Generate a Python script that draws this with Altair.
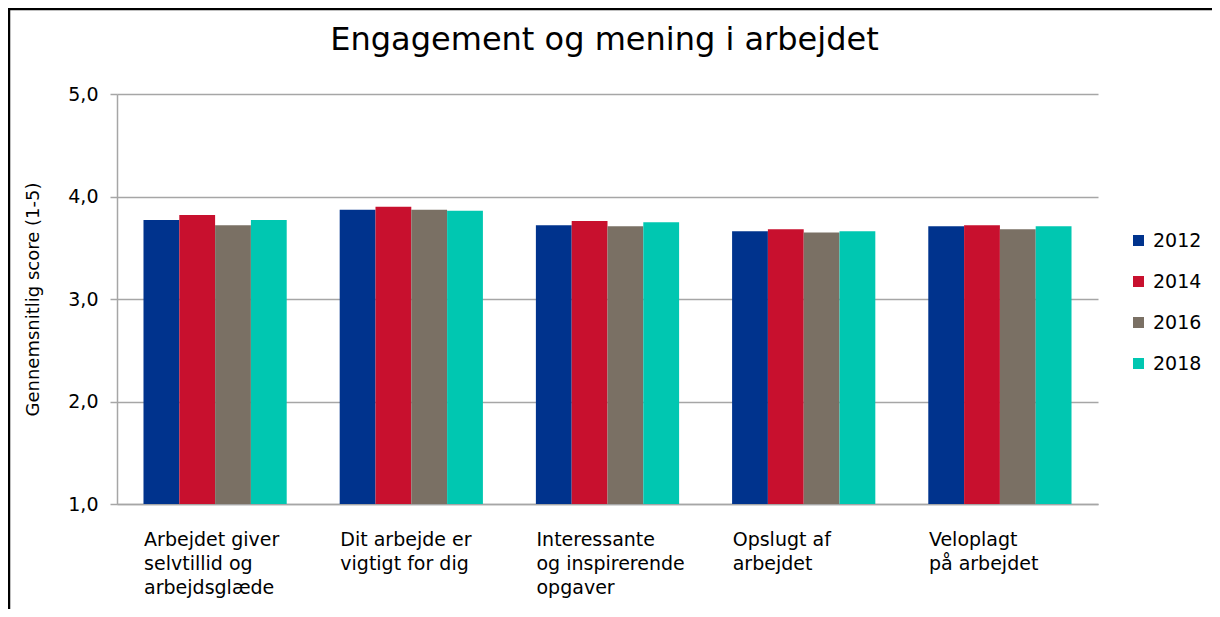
import altair as alt
import pandas as pd

categories = [
    "Arbejdet giver\nselvtillid og\narbejdsglæde",
    "Dit arbejde er\nvigtigt for dig",
    "Interessante\nog inspirerende\nopgaver",
    "Opslugt af\narbejdet",
    "Veloplagt\npå arbejdet",
]
years = ["2012", "2014", "2016", "2018"]
v2012 = [3.77, 3.87, 3.72, 3.66, 3.71]
v2014 = [3.82, 3.90, 3.76, 3.68, 3.72]
v2016 = [3.72, 3.87, 3.71, 3.65, 3.68]
v2018 = [3.77, 3.86, 3.75, 3.66, 3.71]
colors = ["#00338D", "#C8102E", "#7A7064", "#00C7B1"]
y_ticks = [1, 2, 3, 4, 5]
title_text = "Engagement og mening i arbejdet"

rows = []
for yr, vals in zip(years, [v2012, v2014, v2016, v2018]):
    for c, v in zip(categories, vals):
        rows.append({"kategori": c, "år": yr, "score": v})
df = pd.DataFrame(rows)

FONT = "DejaVu Sans"
W, H = 981, 410
PAD = {"left": 109, "top": 86, "right": 114, "bottom": 105}

bars = alt.Chart(df).mark_bar().encode(
    x=alt.X(
        "kategori:N",
        sort=categories,
        title=None,
        scale=alt.Scale(paddingInner=0.27, paddingOuter=0.135),
        axis=alt.Axis(
            labelExpr="split(datum.label, '\\n')",
            labelAngle=0,
            labelAlign="left",
            labelBaseline="top",
            labelOffset=-71,
            labelPadding=26,
            labelFontSize=19,
            labelLineHeight=24,
            labelFont=FONT,
            labelColor="#000000",
            ticks=False,
            domainColor="#A6A6A6",
            domainWidth=1.5,
            grid=False,
        ),
    ),
    xOffset=alt.XOffset("år:N", sort=years),
    y=alt.Y(
        "score:Q",
        scale=alt.Scale(domain=[1, 5], nice=False, zero=False),
        title="Gennemsnitlig score (1-5)",
        axis=alt.Axis(
            values=y_ticks,
            labelExpr="replace(format(datum.value, '.1f'), '.', ',')",
            labelFontSize=19,
            labelFont=FONT,
            labelColor="#000000",
            labelPadding=12,
            tickSize=7,
            tickColor="#A6A6A6",
            tickWidth=1.5,
            domainColor="#A6A6A6",
            domainWidth=1.5,
            gridColor="#A6A6A6",
            gridWidth=1.5,
            titleFont=FONT,
            titleFontSize=18,
            titleFontWeight="normal",
            titleColor="#000000",
            titlePadding=25,
        ),
    ),
    y2=alt.datum(1),
    color=alt.Color(
        "år:N",
        sort=years,
        scale=alt.Scale(domain=years, range=colors),
        legend=alt.Legend(
            title=None,
            orient="none",
            legendX=1012,
            legendY=137,
            symbolType="square",
            symbolSize=121,
            symbolStrokeWidth=0,
            labelFontSize=19,
            labelFont=FONT,
            labelColor="#000000",
            rowPadding=21,
            labelOffset=5,
        ),
    ),
)

one = alt.Data(values=[{"a": 1}])

frame = alt.Chart(one).mark_rect(
    fill=None, stroke="#000000", strokeWidth=2.5
).encode(
    x=alt.value(-PAD["left"] + 1),
    x2=alt.value(W + PAD["right"] + 20),
    y=alt.value(-PAD["top"] + 1),
    y2=alt.value(H + PAD["bottom"] + 20),
)

title = alt.Chart(one).mark_text(
    text=title_text,
    font=FONT,
    fontSize=32,
    color="#000000",
    align="center",
    baseline="alphabetic",
).encode(x=alt.value(W / 2 - 3), y=alt.value(-44))

chart = alt.layer(bars, frame, title).properties(
    width=W,
    height=H,
    autosize=alt.AutoSizeParams(type="none"),
    padding=PAD,
).configure_view(stroke=None)

chart.save("out.html", embed_options={"renderer": "svg", "actions": False})
